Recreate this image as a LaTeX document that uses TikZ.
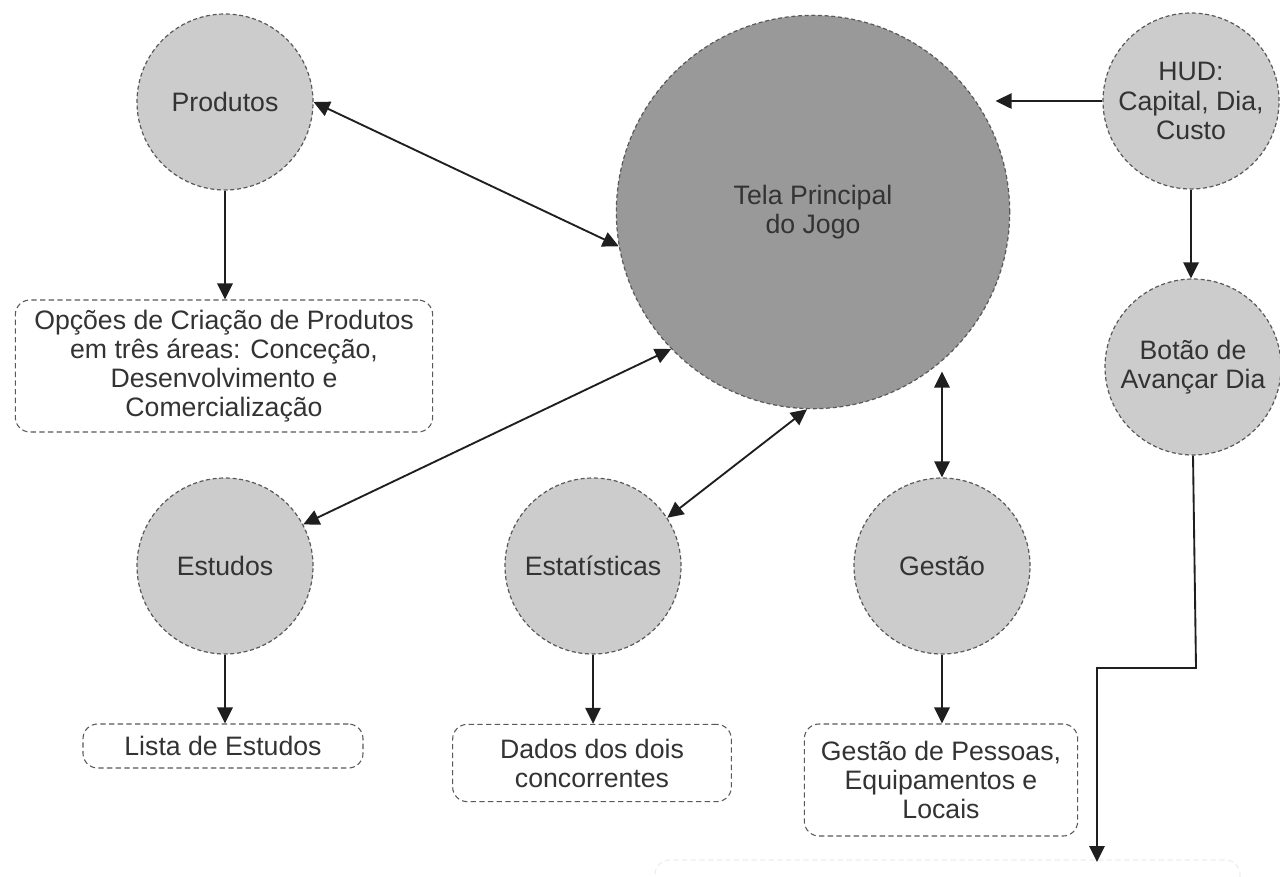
\documentclass[tikz,border=0pt]{standalone}
\usepackage{fontspec}
\setmainfont{Liberation Sans}
\usetikzlibrary{arrows.meta}
\begin{document}
\begin{tikzpicture}[x=0.75pt,y=-0.75pt,
  txt/.style={font=\fontsize{20}{21.8}\selectfont,text=black!80,align=center},
  circ/.style={circle,draw=black!65,fill=black!20,dash pattern=on 3pt off 2pt,line width=0.9pt,inner sep=0pt,minimum size=132pt,txt},
  bigcirc/.style={circ,fill=black!40,minimum size=295pt},
  tbox/.style={rectangle,rounded corners=11pt,draw=black!65,dash pattern=on 4pt off 2.5pt,line width=0.8pt,fill=white,inner sep=0pt,txt},
  arr/.style={-{Triangle[length=12pt,width=11.5pt]},line width=1.4pt,black!88},
  darr/.style={{Triangle[length=12pt,width=11.5pt]}-{Triangle[length=12pt,width=11.5pt]},line width=1.4pt,black!88}
]
\useasboundingbox (0,0) rectangle (1280,876);
\fill[white] (0,0) rectangle (1280,876);

% faint cut-off box at bottom
\draw[black!7,dash pattern=on 4pt off 2.5pt,line width=0.8pt,rounded corners=11pt]
  (655,900) -- (655,860) -- (1240,860) -- (1240,900);

\node[bigcirc] (main) at (813,212) {Tela Principal\\do Jogo};
\node[circ] (prod) at (225,102) {Produtos};
\node[circ] (hud) at (1191,101) {HUD:\\Capital, Dia,\\Custo};
\node[circ] (bot) at (1193,367) {Botão de\\Avançar Dia};
\node[circ] (est) at (225,566) {Estudos};
\node[circ] (stat) at (593,566) {Estatísticas};
\node[circ] (gest) at (942,566) {Gestão};

\node[tbox,minimum width=313pt,minimum height=99pt] (opc) at (224,366)
  {Opções de Criação de Produtos\\em três áreas: Conceção,\\Desenvolvimento e\\Comercialização};
\node[tbox,minimum width=210pt,minimum height=33pt] (lista) at (223,746) {Lista de Estudos};
\node[tbox,minimum width=209pt,minimum height=58pt] (dados) at (592,763) {Dados dos dois\\concorrentes};
\node[tbox,minimum width=205pt,minimum height=84pt] (gbox) at (941,780) {Gestão de Pessoas,\\Equipamentos e\\Locais};

\coordinate (endpt) at (1097,862);
\coordinate (bend) at (1196,668);

% connectors
\draw[darr] (prod.east) -- (main.190);
\draw[arr] (prod.south) -- (prod.south |- opc.north);
\draw[arr] (hud.west) -- ([xshift=-11pt]main.east |- hud.west);
\draw[arr] (hud.south) -- (hud.south |- bot.north);
\draw[darr] (est.28) -- (main.224);
\draw[darr] (stat.33) -- ([xshift=-4.5pt]main.south);
\draw[darr,shorten >=8pt] (gest.north) -- (gest.north |- main.311);
\draw[arr] (est.south) -- (est.south |- lista.north);
\draw[arr] (stat.south) -- (stat.south |- dados.north);
\draw[arr] (gest.south) -- (gest.south |- gbox.north);
\draw[arr] (bot.south) -- (bend) -| (endpt);
\end{tikzpicture}
\end{document}
